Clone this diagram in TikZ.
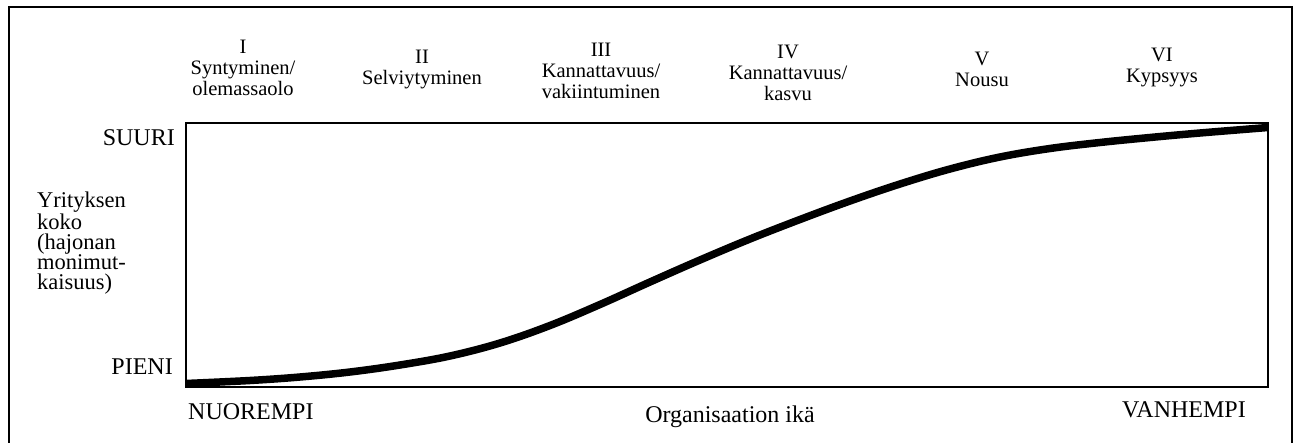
\documentclass[tikz,border=0pt]{standalone}
\usepackage{fontspec}
\setmainfont{Liberation Serif}
\begin{document}
\begin{tikzpicture}[x=1pt,y=-1pt]
\tikzset{
  frame/.style={line width=2.8pt},
  plotbox/.style={line width=1.5pt},
  stage/.style={font=\fontsize{20.5}{21}\selectfont, align=center, anchor=north, inner sep=0pt},
  level/.style={font=\fontsize{24}{26}\selectfont, inner sep=0pt},
  ylab/.style={font=\fontsize{22.5}{20}\selectfont, align=left, anchor=north west, inner sep=0pt},
  growth/.style={line width=7.5pt, line join=round, line cap=butt},
}
\useasboundingbox (0,0) rectangle (1299,443);

% outer frame (its lower edge lies below the page)
\draw[frame] (9,7) rectangle (1292,452);

% plot area
\coordinate (bl) at (186,387);
\coordinate (tr) at (1268,123);
\draw[plotbox] (bl) rectangle (tr);

% stages of the life cycle
\node[stage] (s1) at (243,40) {I\\Syntyminen/\\olemassaolo};
\node[stage] (s2) at (422,50) {II\\Selviytyminen};
\node[stage] (s3) at (601,43) {III\\Kannattavuus/\\vakiintuminen};
\node[stage] (s4) at (788,45) {IV\\Kannattavuus/\\kasvu};
\node[stage] (s5) at (982,52) {V\\Nousu};
\node[stage] (s6) at (1162,48) {VI\\Kypsyys};

% axis labels
\node[level, anchor=base east] (big) at (175,146) {SUURI};
\node[level, anchor=base east] (small) at (173,375) {PIENI};
\node[ylab] (ytitle) at (37,192) {Yrityksen\\koko\\(hajonan\\monimut-\\kaisuus)};
\node[level, anchor=base west] (young) at (188,420) {NUOREMPI};
\node[level, anchor=base east] (old) at (1246,418) {VANHEMPI};
\node[level, anchor=base] (xtitle) at (730,423) {Organisaation ikä};

% growth curve
\draw[growth] plot[smooth, tension=0.6] coordinates {
  (186,383.5) (250,380.5) (300,377) (350,372) (400,365) (450,356) (500,343)
  (550,325.5) (600,304.5) (650,282) (700,260) (750,239) (800,219.5) (850,201)
  (900,184) (950,169) (1000,157) (1050,148.5) (1100,142.5) (1150,137.5)
  (1200,133) (1268,127.5)};
\end{tikzpicture}
\end{document}
